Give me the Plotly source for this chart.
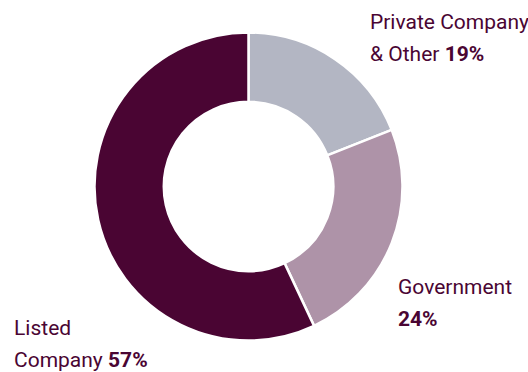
import plotly.graph_objects as go

# Ownership split
categories = ["Private Company & Other", "Government", "Listed Company"]
shares = [19, 24, 57]
slice_colors = ["#b3b6c3", "#ae93a8", "#4a0533"]

W, H = 528, 372
cx, cy, r = 248.5, 186.5, 154

fig = go.Figure(
    go.Pie(
        labels=categories,
        values=shares,
        hole=0.55,
        sort=False,
        direction="clockwise",
        rotation=0,
        marker=dict(colors=slice_colors, line=dict(color="white", width=2.5)),
        textinfo="none",
        hoverinfo="label+percent",
        showlegend=False,
        domain=dict(
            x=[(cx - r) / W, (cx + r) / W],
            y=[(H - cy - r) / H, (H - cy + r) / H],
        ),
    )
)

text_color = "#4a0533"
font = dict(family="Roboto, Liberation Sans, sans-serif", size=21, color=text_color)

# Each label is drawn line by line: (left x, baseline y of first line)
label_lines = {
    "Private Company & Other": ["Private Company", "& Other <b>{}%</b>"],
    "Government": ["Government", "<b>{}%</b>"],
    "Listed Company": ["Listed", "Company <b>{}%</b>"],
}
label_pos = {
    "Private Company & Other": (368, 30),
    "Government": (396, 295),
    "Listed Company": (12, 336),
}
line_pitch = 31.5
baseline_offset = 22

for cat, val in zip(categories, shares):
    x, base = label_pos[cat]
    for i, line in enumerate(label_lines[cat]):
        top = base + i * line_pitch - baseline_offset
        fig.add_annotation(
            x=x / W, y=1 - top / H, xref="paper", yref="paper",
            xanchor="left", yanchor="top", align="left",
            text=line.format(val),
            showarrow=False, font=font,
        )

fig.update_layout(
    width=W, height=H,
    margin=dict(l=0, r=0, t=0, b=0),
    paper_bgcolor="white", plot_bgcolor="white",
)

fig.write_html("out.html")
